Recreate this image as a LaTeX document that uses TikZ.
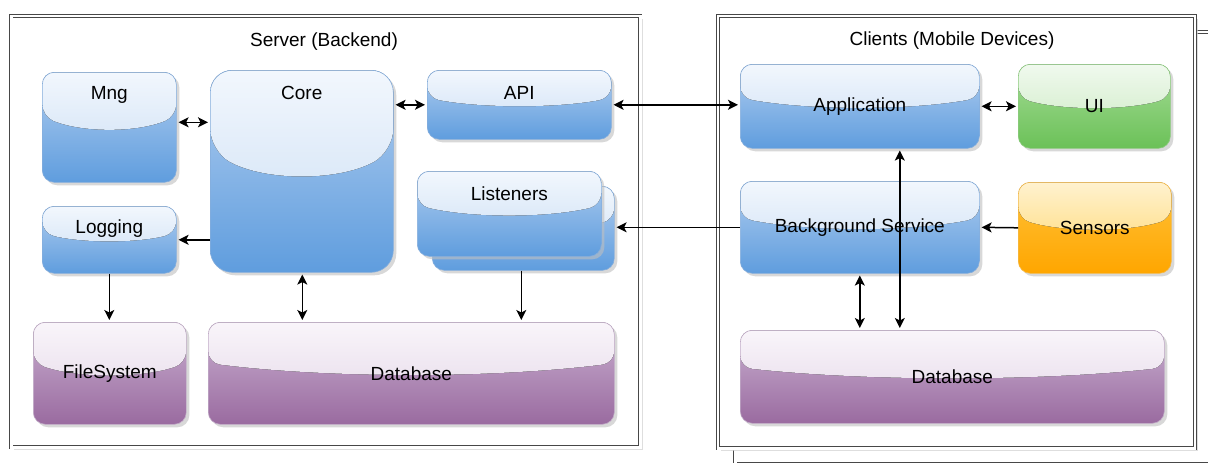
\documentclass[tikz,border=0pt]{standalone}
\usepackage{fontspec}
\setmainfont{Liberation Sans}
\usetikzlibrary{calc,arrows.meta,shadows}

% glossy fills: upper highlight (Hi) and lower body (Lo)
\definecolor{blueHiTop}{HTML}{F2F7FD}
\definecolor{blueHiBot}{HTML}{C9DDF4}
\definecolor{blueLoTop}{HTML}{B0CDEF}
\definecolor{blueLoBot}{HTML}{5F9DDE}
\definecolor{blueEdge}{HTML}{86AEDC}
\definecolor{purpleHiTop}{HTML}{F9F5FA}
\definecolor{purpleHiBot}{HTML}{E2D4E6}
\definecolor{purpleLoTop}{HTML}{C9B0D0}
\definecolor{purpleLoBot}{HTML}{9A6BA0}
\definecolor{purpleEdge}{HTML}{C2ADC8}
\definecolor{greenHiTop}{HTML}{F0F9EE}
\definecolor{greenHiBot}{HTML}{C8E9BE}
\definecolor{greenLoTop}{HTML}{A6DC97}
\definecolor{greenLoBot}{HTML}{6BC158}
\definecolor{greenEdge}{HTML}{8ECB80}
\definecolor{orangeHiTop}{HTML}{FFF2CF}
\definecolor{orangeHiBot}{HTML}{FFD466}
\definecolor{orangeLoTop}{HTML}{FFC23A}
\definecolor{orangeLoBot}{HTML}{FFA600}
\definecolor{orangeEdge}{HTML}{F4BA4C}

\newcommand\boxfont{\fontsize{19}{22}\selectfont}

\tikzset{
  glass/.style={
    rounded corners=12pt, draw=#1Edge, line width=0.6pt,
    top color=#1LoTop, middle color=#1LoTop, bottom color=#1LoBot,
    drop shadow={shadow xshift=3pt, shadow yshift=-3pt, fill=black!25, opacity=0.6},
    inner sep=0pt, font=\boxfont,
    path picture={
      \fill[top color=#1HiTop, bottom color=#1HiBot]
        let \p1=(path picture bounding box.north west),
            \p2=(path picture bounding box.south east),
            \n1={\y1+(\y2-\y1)*0.40},
            \n2={\y1+(\y2-\y1)*0.55},
            \n3={\x1+(\x2-\x1)*0.3},
            \n4={\x1+(\x2-\x1)*0.7}
        in (\x1,\y1) -- (\x1,\n1) .. controls (\n3,\n2) and (\n4,\n2) .. (\x2,\n1)
           -- (\x2,\y1) -- cycle;
    }
  },
  sized/.style 2 args={minimum width=#1pt, minimum height=#2pt, anchor=north west},
  toplabel/.style={label={[font=\boxfont, anchor=center, label distance=-23pt]north:#1}},
  frame/.style={draw=black!72, line width=0.9pt, double=white, double distance=2.2pt,
    fill=white, inner sep=0pt,
    drop shadow={shadow xshift=3pt, shadow yshift=-3pt, fill=black!18, opacity=0.7}},
  title/.style={font=\boxfont, inner sep=1pt},
  tip/.style={-{Stealth[length=10pt, width=10pt, inset=2.5pt]}},
  conn/.style={line width=1.5pt, tip, shorten >=2pt},
  biconn/.style={line width=1.5pt,
    {Stealth[length=10pt, width=10pt, inset=2.5pt]}-{Stealth[length=10pt, width=10pt, inset=2.5pt]},
    shorten >=2pt, shorten <=2pt},
}

\begin{document}
\begin{tikzpicture}[x=1pt, y=-1pt]
\useasboundingbox (0,0) rectangle (1208,463);
\clip (0,0) rectangle (1208,463);
\fill[white] (0,0) rectangle (1208,463);

% containers
\node[frame, sized={481}{432}] (backframe) at (735,31.5) {};
\node[frame, sized={629}{431.5}] (server) at (11,15.5) {};
\node[frame, sized={477}{432.5}] (clients) at (717.5,15.5) {};

\node[title] (servertitle) at (324,42) {Server (Backend)};
\node[title] (clienttitle) at (952,41) {Clients (Mobile Devices)};

% server side
\node[glass=blue, sized={134}{110}, toplabel=Mng] (mng) at (42,72) {};
\node[glass=blue, rounded corners=22pt, sized={183}{202}, toplabel=Core] (core) at (210,70) {};
\node[glass=blue, sized={184}{69}, toplabel=API] (api) at (427,70) {};
\node[glass=blue, sized={134}{67}, toplabel=Logging] (logging) at (42,206) {};
\node[glass=blue, sized={182}{84}] (lisback) at (432,186) {};
\node[glass=blue, sized={184}{85}, toplabel=Listeners] (lis) at (417,171) {};
\node[glass=purple, sized={153}{102}] (fs) at (33,322) {FileSystem};
\node[glass=purple, sized={406}{102}] (sdb) at (208,322) {Database};

% client side
\node[glass=blue, sized={239}{84}] (app) at (740,64) {Application};
\node[glass=green, sized={152}{84}] (ui) at (1018,64) {UI};
\node[glass=blue, sized={239}{92}] (bg) at (740,181) {Background Service};
\node[glass=orange, sized={153}{91}] (sens) at (1018,182) {Sensors};
\node[glass=purple, sized={424}{93}] (cdb) at (740,330) {Database};

% connectors
\draw[biconn] ([yshift=5pt]mng.east) -- ([yshift=5pt]mng.east -| core.west);
\draw[biconn] (api.west -| core.east) -- (api.west);
\draw[biconn] (api.east) -- (api.east -| app.west);
\draw[biconn] (app.east) -- (ui.west);
\draw[conn] (logging.east -| core.west) -- (logging.east);
\draw[conn, shorten <=0pt] (logging.south) -- (logging.south |- fs.north);
\draw[biconn] ([xshift=0.5pt]core.south) -- ([xshift=0.5pt]core.south |- sdb.north);
\draw[conn] ([xshift=-2pt]lisback.south) -- ([xshift=-2pt]lisback.south |- sdb.north);
\draw[conn] (bg.west) -- (bg.west -| lisback.east);
\draw[conn] (sens.west) -- (bg.east);
\draw[biconn] (bg.south) -- (bg.south |- cdb.north);
\draw[biconn] ([xshift=40pt]app.south) -- ([xshift=40pt]app.south |- cdb.north);
\end{tikzpicture}
\end{document}
